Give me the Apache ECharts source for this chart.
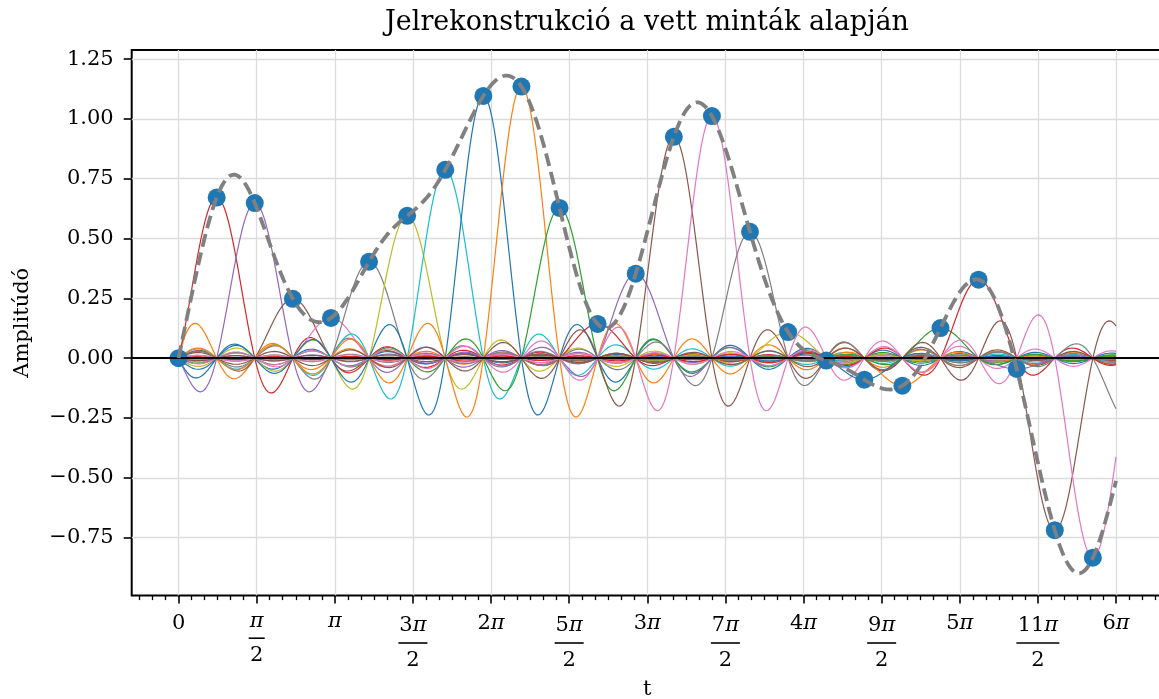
<!DOCTYPE html>
<html>
<head>
<meta charset="utf-8">
<script src="https://cdn.jsdelivr.net/npm/echarts@6/dist/echarts.min.js"></script>
<style>
  html, body { margin: 0; padding: 0; background: #ffffff; }
  #chart { width: 1159px; height: 699px; }
</style>
</head>
<body>
<div id="chart"></div>
<script>
const PI = Math.PI;

// Sampling period in radians (time between consecutive samples)
const samplePeriod = 0.766;

// Sample indices n and the sampled amplitudes x[n]
const sampleIndex = [-2, -1, 0, 1, 2, 3, 4, 5, 6, 7, 8, 9, 10, 11, 12, 13,
                     14, 15, 16, 17, 18, 19, 20, 21, 22, 23, 24, 25];
const sampleValue = [-0.645, -0.670, 0.000, 0.671, 0.648, 0.248, 0.168, 0.403,
                     0.595, 0.787, 1.096, 1.135, 0.628, 0.143, 0.353, 0.925,
                     1.012, 0.528, 0.109, -0.010, -0.090, -0.115, 0.126, 0.328,
                     -0.045, -0.719, -0.834, -0.276];

// Reconstruction time span
const tStart = 0;
const tEnd = 6 * PI;
const tSteps = 900;

// Axis ticks
const xTickLabels = ['0', 'π/2', 'π', '3π/2', '2π', '5π/2', '3π', '7π/2',
                     '4π', '9π/2', '5π', '11π/2', '6π'];
const yTicks = [-0.75, -0.5, -0.25, 0, 0.25, 0.5, 0.75, 1.0, 1.25];

const palette = ['#1f77b4', '#ff7f0e', '#2ca02c', '#d62728', '#9467bd',
                 '#8c564b', '#e377c2', '#7f7f7f', '#bcbd22', '#17becf'];

const FONT = 'DejaVu Serif';

// ---------- sinc interpolation ----------
function sinc(x) {
  if (Math.abs(x) < 1e-12) return 1;
  return Math.sin(PI * x) / (PI * x);
}

const tGrid = [];
for (let i = 0; i <= tSteps; i++) tGrid.push(tStart + (tEnd - tStart) * i / tSteps);

const kernelSeries = [];
const total = tGrid.map(() => 0);
sampleIndex.forEach((n, i) => {
  const center = n * samplePeriod;
  const pts = tGrid.map((t, j) => {
    const v = sampleValue[i] * sinc((t - center) / samplePeriod);
    total[j] += v;
    return [t, v];
  });
  kernelSeries.push({
    type: 'line',
    data: pts,
    showSymbol: false,
    symbol: 'none',
    silent: true,
    z: 2,
    lineStyle: { color: palette[i % 10], width: 1.2 },
    animation: false
  });
});

const reconstruction = tGrid.map((t, j) => [t, total[j]]);

const samplePoints = [];
sampleIndex.forEach((n, i) => {
  const t = n * samplePeriod;
  if (t >= tStart && t <= tEnd) samplePoints.push([t, sampleValue[i]]);
});

// ---------- tick positions ----------
const majorTicks = xTickLabels.map((_, k) => k * PI / 2);
const xMin = -0.3 * PI, xMax = 6.3 * PI;
const minorTicks = [];
for (let k = -6; k <= 80; k++) {
  const v = k * PI / 12;
  if (v >= xMin && v <= xMax && k % 6 !== 0) minorTicks.push(v);
}

function piRich(s, numStyle) {
  // splits "3π" into the digit part and an italic π
  const idx = s.indexOf('π');
  if (idx < 0) return '{' + numStyle + '|' + s + '}';
  const pre = s.slice(0, idx);
  return (pre ? '{' + numStyle + '|' + pre + '}' : '') + '{' + numStyle + 'Pi|π}';
}

function xLabel(value) {
  const k = Math.round(value / (PI / 2));
  const lab = xTickLabels[k];
  if (lab === undefined) return '';
  if (lab.indexOf('/') >= 0) {
    const [num, den] = lab.split('/');
    if (num === 'π') {
      return piRich(num, 'pn') + '\n{barP| }\n{pd|' + den + '}';
    }
    const barStyle = 'bar' + (num.length - 1);
    return piRich(num, 'fn') + '\n{' + barStyle + '| }\n{fd|' + den + '}';
  }
  if (lab === 'π') return '{spPi|π}';
  return piRich(lab, 's');
}

const base = { fontFamily: FONT, fontSize: 21, color: '#000' };
const italicPi = Object.assign({}, base, { fontStyle: 'italic' });
const bar = (w, lh) => ({ width: w, height: 1.6, backgroundColor: '#000', fontSize: 1, lineHeight: lh });

const chart = echarts.init(document.getElementById('chart'), null, { renderer: 'canvas' });

chart.setOption({
  animation: false,
  backgroundColor: '#ffffff',
  title: {
    text: 'Jelrekonstrukció a vett minták alapján',
    left: 647,
    top: 9,
    padding: 0,
    textAlign: 'center',
    textStyle: { fontFamily: FONT, fontSize: 27, fontWeight: 'normal', color: '#000' }
  },
  grid: {
    left: 131.7, right: -3.9, top: 50, bottom: 103.5,
    show: true, borderColor: '#000', borderWidth: 2,
    containLabel: false, outerBoundsMode: 'none'
  },
  xAxis: [{
    type: 'value',
    min: xMin, max: xMax,
    position: 'bottom',
    axisLine: { show: false, onZero: false },
    axisTick: { show: true, customValues: majorTicks, length: 8, lineStyle: { color: '#000', width: 1.6 } },
    axisLabel: {
      customValues: majorTicks,
      formatter: xLabel,
      margin: 18,
      verticalAlign: 'top',
      rich: {
        s: Object.assign({}, base, { lineHeight: 20 }),
        sPi: Object.assign({}, italicPi, { lineHeight: 20 }),
        spPi: Object.assign({}, italicPi, { lineHeight: 16 }),
        fn: Object.assign({}, base, { lineHeight: 24 }),
        fnPi: Object.assign({}, italicPi, { lineHeight: 24 }),
        fd: Object.assign({}, base, { lineHeight: 24 }),
        pn: Object.assign({}, base, { lineHeight: 16 }),
        pnPi: Object.assign({}, italicPi, { lineHeight: 16 }),
        pd: Object.assign({}, base, { lineHeight: 18 }),
        barP: bar(16, 17.4),
        bar0: bar(16, 11), bar1: bar(29, 11), bar2: bar(43, 11)
      }
    },
    splitLine: { show: true, lineStyle: { color: '#dcdcdc', width: 1.3 } },
    name: 't',
    nameLocation: 'middle',
    nameGap: 84,
    nameTextStyle: { fontFamily: FONT, fontSize: 21, color: '#000' }
  }, {
    type: 'value',
    min: xMin, max: xMax,
    position: 'bottom',
    axisLine: { show: false, onZero: false },
    axisTick: { show: true, customValues: minorTicks, length: 4.6, lineStyle: { color: '#000', width: 1.3 } },
    axisLabel: { show: false },
    splitLine: { show: false }
  }],
  yAxis: {
    type: 'value',
    min: -0.992, max: 1.288,
    axisLine: { show: false, onZero: false },
    axisTick: { show: true, customValues: yTicks, length: 8, lineStyle: { color: '#000', width: 1.6 } },
    axisLabel: {
      customValues: yTicks,
      margin: 18,
      fontFamily: FONT, fontSize: 21, color: '#000',
      formatter: (v) => (v < 0 ? '\u2212' : '') + Math.abs(v).toFixed(2)
    },
    splitLine: { show: true, lineStyle: { color: '#dcdcdc', width: 1.3 } },
    name: 'Amplitúdó',
    nameLocation: 'middle',
    nameRotate: 90,
    nameGap: 99,
    nameTextStyle: { fontFamily: FONT, fontSize: 21, color: '#000' }
  },
  series: kernelSeries.concat([
    {
      type: 'scatter',
      data: samplePoints,
      symbolSize: 18,
      z: 3,
      silent: true,
      itemStyle: { color: '#1f77b4', opacity: 1 }
    },
    {
      type: 'line',
      data: [],
      z: 4,
      silent: true,
      markLine: {
        silent: true,
        symbol: 'none',
        label: { show: false },
        lineStyle: { color: '#000', width: 1.8, type: 'solid' },
        data: [{ yAxis: 0 }],
        animation: false
      }
    },
    {
      type: 'line',
      data: reconstruction,
      showSymbol: false,
      symbol: 'none',
      silent: true,
      z: 5,
      lineStyle: { color: '#808080', width: 3.8, type: [13, 6] }
    }
  ])
});
</script>
</body>
</html>
